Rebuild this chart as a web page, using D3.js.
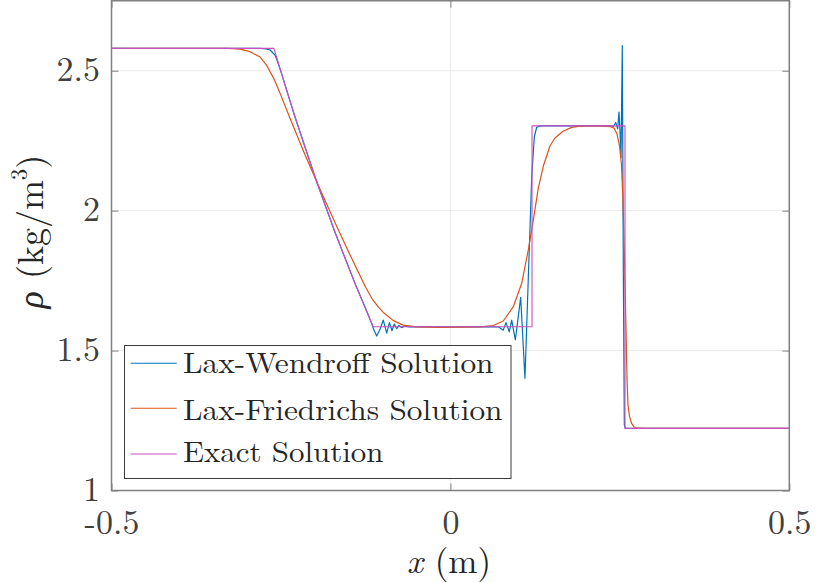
<!DOCTYPE html>
<html>
<head>
<meta charset="utf-8">
<script src="https://cdn.jsdelivr.net/npm/d3@7"></script>
<style>
  html, body { margin: 0; padding: 0; background: #ffffff; }
  svg { display: block; }
</style>
</head>
<body>
<svg id="chart" width="817" height="583"></svg>
<script>
// Shock tube density at the output time: two numerical schemes and the exact solution.

// Lax-Wendroff solution (x in m, rho in kg/m^3)
const lwX = [-0.5, -0.28, -0.272, -0.266, -0.2588, -0.255, -0.25, -0.23, -0.2, -0.17, -0.14, -0.125,
  -0.117, -0.1125, -0.1087, -0.104, -0.099, -0.094, -0.09, -0.0862, -0.0828, -0.0792, -0.0758,
  -0.072, -0.068, -0.06, 0.07, 0.0707, 0.078, 0.082, 0.0869, 0.0904, 0.0958, 0.1037, 0.11, 0.115,
  0.12, 0.1238, 0.1273, 0.1322, 0.238, 0.2403, 0.2439, 0.2468, 0.2487, 0.2502, 0.2517, 0.2536,
  0.2551, 0.2566, 0.258, 0.5];
const lwRho = [2.58, 2.58, 2.578, 2.574, 2.556, 2.532, 2.497, 2.34, 2.122, 1.921, 1.735, 1.65,
  1.602, 1.572, 1.552, 1.575, 1.609, 1.562, 1.6, 1.571, 1.595, 1.578, 1.59,
  1.582, 1.587, 1.585, 1.585, 1.585, 1.573, 1.6, 1.567, 1.609, 1.538, 1.69, 1.401, 1.764,
  2.121, 2.264, 2.298, 2.303, 2.303, 2.3, 2.315, 2.292, 2.352, 2.285, 2.19, 2.59,
  1.8, 1.235, 1.222, 1.222];

// Lax-Friedrichs solution
const lfX = [-0.5, -0.33, -0.32, -0.3104, -0.2956, -0.2809, -0.2705, -0.2602, -0.2514, -0.2366,
  -0.2175, -0.1945, -0.172, -0.1515, -0.1338, -0.1245, -0.1157, -0.1068, -0.098, -0.0842, -0.0695,
  -0.0497, -0.0153, 0.0437, 0.0633, 0.078, 0.0928, 0.1052, 0.1149, 0.1223, 0.1297, 0.1371, 0.1469,
  0.1543, 0.1666, 0.179, 0.1912, 0.206, 0.2207, 0.2355, 0.2414, 0.2458, 0.2495, 0.2524, 0.2546,
  0.2569, 0.2591, 0.2606, 0.262, 0.2642, 0.2672, 0.2709, 0.2753, 0.29, 0.5];
const lfRho = [2.58, 2.5795, 2.579, 2.577, 2.568, 2.549, 2.517, 2.47, 2.42, 2.33,
  2.2164, 2.0879, 1.9664, 1.8592, 1.7699, 1.7235, 1.686, 1.657, 1.634, 1.607, 1.591,
  1.585, 1.583, 1.585, 1.5895, 1.6056, 1.6567, 1.7403, 1.8592, 1.9664, 2.0807, 2.1593, 2.2308,
  2.2594, 2.2844, 2.2976, 2.3022, 2.303, 2.303, 2.3005, 2.295, 2.274, 2.231, 2.163, 2.038,
  1.824, 1.573, 1.394, 1.305, 1.266, 1.241, 1.227, 1.2226, 1.222, 1.222];

// Exact Riemann solution
const exX = [-0.5, -0.2604, -0.245, -0.23, -0.215, -0.2, -0.185, -0.17, -0.155, -0.14, -0.125,
  -0.1138, 0.1204, 0.1204, 0.2576, 0.2576, 0.5];
const exRho = [2.58, 2.58, 2.457, 2.341, 2.231, 2.123, 2.02, 1.921, 1.827, 1.736, 1.648,
  1.585, 1.585, 2.303, 2.303, 1.222, 1.222];

const xTicks = [-0.5, 0, 0.5];
const xTickLabels = ["-0.5", "0", "0.5"];
const yTicks = [1, 1.5, 2, 2.5];
const yTickLabels = ["1", "1.5", "2", "2.5"];
const seriesNames = ["Lax-Wendroff Solution", "Lax-Friedrichs Solution", "Exact Solution"];
const seriesColors = ["#0072bd", "#d95319", "#c94fc0"];

const FONT = "'Latin Modern Roman', 'CMU Serif', 'Liberation Serif', serif";
const svg = d3.select("#chart");
const plotLeft = 111.5, plotRight = 789.3, plotTop = 0.75, plotBottom = 490.5;

const x = d3.scaleLinear().domain([-0.5, 0.5]).range([plotLeft, plotRight]);
const y = d3.scaleLinear().domain([1, 2.75]).range([plotBottom, plotTop]);

svg.append("defs").append("clipPath").attr("id", "plotArea")
  .append("rect").attr("x", plotLeft).attr("y", plotTop)
  .attr("width", plotRight - plotLeft).attr("height", plotBottom - plotTop);

// grid
const grid = svg.append("g").attr("stroke", "#ebebeb").attr("stroke-width", 1);
xTicks.forEach(v => grid.append("line")
  .attr("x1", x(v)).attr("x2", x(v)).attr("y1", plotTop).attr("y2", plotBottom));
yTicks.forEach(v => grid.append("line")
  .attr("x1", plotLeft).attr("x2", plotRight).attr("y1", y(v)).attr("y2", y(v)));

// curves
const series = [
  { xs: lwX, ys: lwRho, color: seriesColors[0], w: 1.2 },
  { xs: lfX, ys: lfRho, color: seriesColors[1], w: 1.2 },
  { xs: exX, ys: exRho, color: seriesColors[2], w: 1.1 }
];
const line = d3.line().x(d => x(d[0])).y(d => y(d[1]));
const plot = svg.append("g").attr("clip-path", "url(#plotArea)");
series.forEach(s => {
  plot.append("path")
    .datum(s.xs.map((v, i) => [v, s.ys[i]]))
    .attr("fill", "none")
    .attr("stroke", s.color)
    .attr("stroke-width", s.w)
    .attr("stroke-linejoin", "round")
    .attr("d", line);
});

// axes with inward ticks, box on all sides
const tickLen = 7;
const axisColor = "#808080";
const gx = svg.append("g").attr("transform", `translate(0,${plotBottom})`)
  .call(d3.axisBottom(x).tickValues(xTicks).tickSize(-tickLen).tickPadding(19)
    .tickFormat((d, i) => xTickLabels[i]));
const gy = svg.append("g").attr("transform", `translate(${plotLeft},0)`)
  .call(d3.axisLeft(y).tickValues(yTicks).tickSize(-tickLen).tickPadding(11.5)
    .tickFormat((d, i) => yTickLabels[i]));
const gxTop = svg.append("g").attr("transform", `translate(0,${plotTop})`)
  .call(d3.axisTop(x).tickValues(xTicks).tickSize(-tickLen).tickFormat(""));
const gyRight = svg.append("g").attr("transform", `translate(${plotRight},0)`)
  .call(d3.axisRight(y).tickValues(yTicks).tickSize(-tickLen).tickFormat(""));
[gx, gy, gxTop, gyRight].forEach(g => {
  g.select(".domain").remove();
  g.attr("font-family", null).attr("font-size", null);
  g.selectAll(".tick line").attr("stroke", axisColor).attr("stroke-width", 1);
  g.selectAll("text").style("font-family", FONT)
    .style("font-size", "34px").attr("fill", "#404040");
});
gy.selectAll("text").attr("dy", "0.29em");
svg.append("rect")
  .attr("x", plotLeft).attr("y", plotTop)
  .attr("width", plotRight - plotLeft).attr("height", plotBottom - plotTop)
  .attr("fill", "none").attr("stroke", axisColor).attr("stroke-width", 1.5);

// axis titles
const xLabel = svg.append("text")
  .attr("x", 449).attr("y", 573)
  .attr("text-anchor", "middle")
  .style("font-family", FONT).style("font-size", "35px").attr("fill", "#262626");
xLabel.append("tspan").style("font-style", "italic").text("x");
xLabel.append("tspan").text(" (m)");

const yLabel = svg.append("text")
  .attr("transform", "translate(43,231.5) rotate(-90)")
  .attr("text-anchor", "middle")
  .style("font-family", FONT).style("font-size", "36px").attr("fill", "#262626");
yLabel.append("tspan").style("font-style", "italic").text("ρ");
yLabel.append("tspan").text(" (kg/m");
yLabel.append("tspan").attr("dy", -16).style("font-size", "23px").text("3");
yLabel.append("tspan").attr("dy", 16).text(")");

// legend
const legend = svg.append("g");
legend.append("rect")
  .attr("x", 124.5).attr("y", 345.5).attr("width", 386.5).attr("height", 133)
  .attr("fill", "#ffffff").attr("stroke", "#3a3a3a").attr("stroke-width", 1);
const rowY = [363.3, 408.3, 454];
const baseY = [373.3, 420, 461.7];
const textW = [310.5, 319.5, 200.5];
seriesNames.forEach((name, i) => {
  legend.append("line")
    .attr("x1", 130.7).attr("x2", 176.7).attr("y1", rowY[i]).attr("y2", rowY[i])
    .attr("stroke", seriesColors[i]).attr("stroke-width", 1.1);
  legend.append("text")
    .attr("x", 183).attr("y", baseY[i])
    .attr("textLength", textW[i]).attr("lengthAdjust", "spacingAndGlyphs")
    .style("font-family", FONT).style("font-size", "29px").attr("fill", "#262626")
    .text(name);
});
</script>
</body>
</html>
